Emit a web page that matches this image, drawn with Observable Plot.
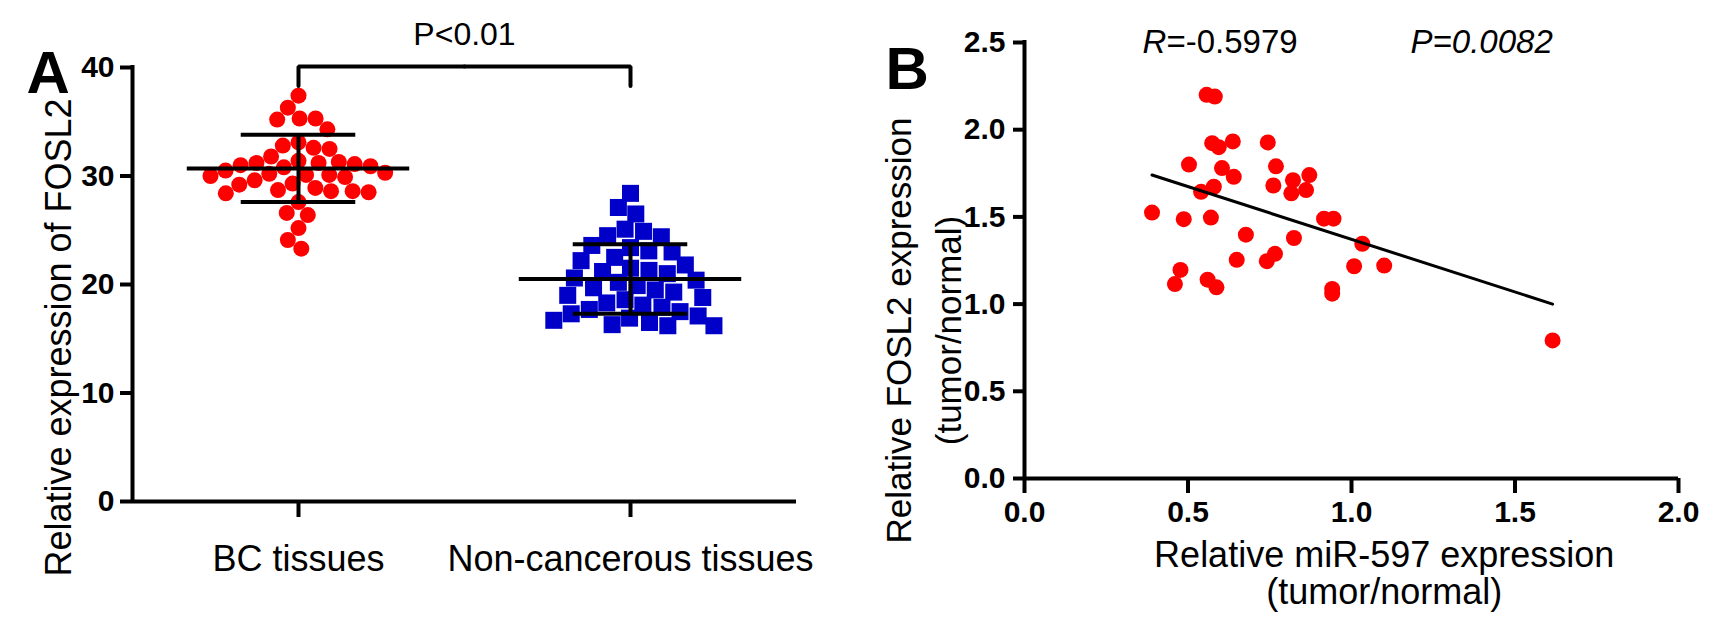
<!DOCTYPE html>
<html>
<head>
<meta charset="utf-8">
<script src="https://cdn.jsdelivr.net/npm/d3@7"></script>
<script src="https://cdn.jsdelivr.net/npm/@observablehq/plot@0.6"></script>
<style>
  body { margin: 0; background: #fff; }
  #wrap { position: relative; width: 1719px; height: 629px; overflow: hidden; background: #fff; }
  #wrap > svg { position: absolute; top: 0; }
  .bold-ticks g[aria-label="y-axis tick label"],
  .bold-ticks g[aria-label="x-axis tick label"] { font-weight: bold; }
</style>
</head>
<body>
<div id="wrap"></div>
<script>
// ---------- Panel A data ----------
const groups = ["BC tissues", "Non-cancerous tissues"];
const bcValues = [37.4, 36.3, 35.3, 35.3, 35.2, 34.3, 33.1, 32.8, 32.6, 32.5, 31.8, 31.4, 31.3, 31.2, 31.2,
  31.1, 31.0, 30.9, 30.8, 30.5, 30.3, 30.2, 30.1, 30.1, 30.0, 29.9, 29.6, 29.3, 29.2, 28.9, 28.7, 28.6,
  28.6, 28.5, 28.4, 27.6, 26.6, 26.4, 25.2, 24.1, 23.3];
const ncValues = [28.4, 27.1, 26.5, 25.1, 24.9, 24.5, 24.4, 23.6, 23.4, 23.1, 23.0, 22.5, 22.2, 21.8, 21.5,
  21.3, 21.2, 21.0, 20.6, 20.4, 20.2, 19.9, 19.7, 19.5, 19.3, 19.0, 18.8, 18.6, 18.3, 18.1, 17.9, 17.7,
  17.5, 17.3, 17.1, 16.9, 16.7, 16.5, 16.3, 16.2, 16.2];
const groupMean = [30.7, 20.5];
const groupSD = [3.1, 3.2];
const yTicksA = [0, 10, 20, 30, 40];
const bracketY = [38.3, 40.1];
const sigLabel = "P<0.01";
const yTitleA = "Relative expression of FOSL2";

// ---------- Panel B data ----------
const mirX = [0.557, 0.582, 0.574, 0.594, 0.637, 0.744, 0.503, 0.604, 0.640, 0.769, 0.761, 0.821, 0.816,
  0.861, 0.871, 0.540, 0.579, 0.390, 0.487, 0.570, 0.916, 0.945, 0.677, 0.824, 1.033, 0.649, 0.741, 0.766,
  0.477, 0.460, 0.560, 0.587, 0.941, 0.941, 1.008, 1.100, 1.615];
const foslY = [2.20, 2.19, 1.923, 1.90, 1.933, 1.927, 1.80, 1.78, 1.73, 1.79, 1.68, 1.71, 1.635,
  1.654, 1.74, 1.644, 1.673, 1.525, 1.487, 1.496, 1.49, 1.49, 1.398, 1.379, 1.346, 1.254, 1.246, 1.288,
  1.196, 1.115, 1.14, 1.096, 1.087, 1.06, 1.217, 1.221, 0.792];
const fitX = [0.39, 1.615];
const fitY = [1.74, 1.0];
const xTicksB = [0, 0.5, 1.0, 1.5, 2.0];
const yTicksB = [0, 0.5, 1.0, 1.5, 2.0, 2.5];
const statR = "=-0.5979";
const statP = "P=0.0082";
const xTitleB = "Relative miR-597 expression\n(tumor/normal)";
const yTitleB1 = "Relative FOSL2 expression";
const yTitleB2 = "(tumor/normal)";

// ---------- styling ----------
const FONT = "'Liberation Sans', Arial, Helvetica, sans-serif";
const RED = "#ff0000";
const BLUE = "#0000c8";
const AXW = 4;

const wrap = document.getElementById("wrap");

// ---------- Panel A ----------
const summary = groups.map((g, i) => ({group: g, mean: groupMean[i], sd: groupSD[i]}));
const bracket = [
  {g: groups[0], x: 0, y: bracketY[0]}, {g: groups[0], x: 0, y: bracketY[1]}, {g: groups[0], x: 1, y: bracketY[1]},
  {g: groups[1], x: -1, y: bracketY[1]}, {g: groups[1], x: 0, y: bracketY[1]}, {g: groups[1], x: 0, y: bracketY[0]}
];

const plotA = Plot.plot({
  width: 860, height: 629,
  marginLeft: 131, marginRight: 64, marginTop: 67, marginBottom: 128,
  className: "bold-ticks",
  style: {fontFamily: FONT, color: "#000", background: "transparent", overflow: "visible"},
  fx: {domain: groups, padding: 0, axis: null},
  x: {domain: [-1, 1], axis: null},
  y: {domain: [0, 40], axis: null},
  marks: [
    Plot.dot(bcValues, Plot.dodgeX({anchor: "middle", padding: 0},
      {fx: () => groups[0], y: d => d, r: 8, fill: RED, symbol: "circle"})),
    Plot.dot(ncValues, Plot.dodgeX({anchor: "middle", padding: -0.6},
      {fx: () => groups[1], y: d => d, r: 9.6, fill: BLUE, symbol: "square"})),
    Plot.ruleY(summary, {fx: "group", y: "mean", x1: -0.67, x2: 0.67, strokeWidth: 4}),
    Plot.ruleX(summary, {fx: "group", x: 0, y1: d => d.mean - d.sd, y2: d => d.mean + d.sd, strokeWidth: 4}),
    Plot.ruleY(summary, {fx: "group", y: d => d.mean + d.sd, x1: -0.345, x2: 0.345, strokeWidth: 4}),
    Plot.ruleY(summary, {fx: "group", y: d => d.mean - d.sd, x1: -0.345, x2: 0.345, strokeWidth: 4}),
    Plot.ruleY([0], {strokeWidth: AXW}),
    Plot.ruleX([groups[0]], {fx: d => d, x: -1, y1: 0, y2: 40, strokeWidth: AXW, strokeLinecap: "square"}),
    Plot.axisY({ticks: yTicksA, tickSize: 12, tickPadding: 6, strokeWidth: AXW, fontSize: 30, fontWeight: "bold", label: null}),
    Plot.axisFx({anchor: "bottom", tickSize: 16, tickPadding: 28, strokeWidth: AXW, fontSize: 36, label: null}),
    Plot.line(bracket, {fx: "g", z: "g", x: "x", y: "y", strokeWidth: 4, strokeLinejoin: "miter"}),
    Plot.text([sigLabel], {fx: () => groups[0], x: 1, y: 43.0, text: d => d, fontSize: 32, textAnchor: "middle"}),
    Plot.text(["A"], {fx: () => groups[0], frameAnchor: "top-left", text: d => d, dx: -106, dy: -17,
      textAnchor: "start", fontSize: 60, fontWeight: "bold"}),
    Plot.text([yTitleA], {fx: () => groups[0], frameAnchor: "top-left", text: d => d, dx: -87, dy: 270,
      rotate: -90, textAnchor: "middle", fontSize: 36})
  ]
});
plotA.style.left = "0px";
wrap.appendChild(plotA);

// ---------- Panel B ----------
const pts = mirX.map((x, i) => ({x, y: foslY[i]}));
const fit = fitX.map((x, i) => ({x, y: fitY[i]}));

const plotB = Plot.plot({
  width: 859, height: 629,
  marginLeft: 164, marginRight: 41, marginTop: 42, marginBottom: 151,
  className: "bold-ticks",
  style: {fontFamily: FONT, color: "#000", background: "transparent", overflow: "visible"},
  x: {domain: [0, 2], axis: null},
  y: {domain: [0, 2.5], axis: null},
  marks: [
    Plot.dot(pts, {x: "x", y: "y", r: 8, fill: RED}),
    Plot.line(fit, {x: "x", y: "y", strokeWidth: 3}),
    Plot.ruleY([0], {strokeWidth: AXW}),
    Plot.ruleX([0], {y1: 0, y2: 2.5, strokeWidth: AXW, strokeLinecap: "square"}),
    Plot.axisX({ticks: xTicksB, tickSize: 15, tickPadding: 7, tickFormat: d3.format(".1f"), strokeWidth: AXW,
      fontSize: 30, fontWeight: "bold", label: null}),
    Plot.axisY({ticks: yTicksB, tickSize: 11, tickPadding: 8, tickFormat: d3.format(".1f"), strokeWidth: AXW,
      fontSize: 30, fontWeight: "bold", label: null}),
    Plot.text(["R"], {x: 0.434, y: 2.5, text: d => d, textAnchor: "end", fontSize: 33, fontStyle: "italic"}),
    Plot.text([statR], {x: 0.434, y: 2.5, text: d => d, textAnchor: "start", fontSize: 33}),
    Plot.text([statP], {x: 1.398, y: 2.5, text: d => d, textAnchor: "middle", fontSize: 33, fontStyle: "italic"}),
    Plot.text([xTitleB], {x: 1.1, frameAnchor: "bottom", text: d => d, lineAnchor: "top", dy: 62,
      lineHeight: 1.03, textAnchor: "middle", fontSize: 36}),
    Plot.text([yTitleB1], {frameAnchor: "top-left", text: d => d, dx: -138, dy: 288, rotate: -90,
      textAnchor: "middle", fontSize: 35}),
    Plot.text([yTitleB2], {frameAnchor: "top-left", text: d => d, dx: -88, dy: 288, rotate: -90,
      textAnchor: "middle", fontSize: 35}),
    Plot.text(["B"], {frameAnchor: "top-left", text: d => d, dx: -139, dy: 4, textAnchor: "start",
      fontSize: 60, fontWeight: "bold"})
  ]
});
plotB.style.left = "860px";
wrap.appendChild(plotB);
</script>
</body>
</html>
